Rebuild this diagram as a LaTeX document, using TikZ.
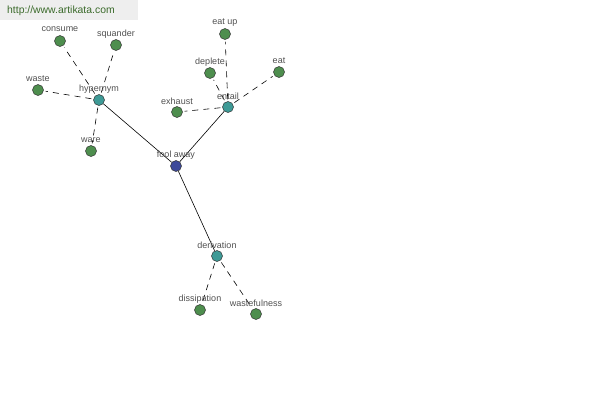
\documentclass[tikz,border=0pt]{standalone}
\usepackage{fontspec}
\setmainfont{Liberation Sans}
\definecolor{leafgreen}{HTML}{4E8E4E}
\definecolor{hubteal}{HTML}{3E9A96}
\definecolor{rootblue}{HTML}{3E4A9A}
\definecolor{labelgray}{HTML}{505050}
\definecolor{bannergray}{HTML}{EEEEEE}
\definecolor{bannertext}{HTML}{3A6A2A}
\tikzset{
  x=1pt, y=-1pt,
  dot/.style={circle, draw=black!80, line width=0.5pt, minimum size=11pt, inner sep=0pt},
  leaf/.style={dot, fill=leafgreen},
  hub/.style={dot, fill=hubteal},
  root/.style={dot, fill=rootblue},
  lbl/.style={font=\fontsize{9}{10}\selectfont, text=labelgray, inner sep=0pt},
  solidedge/.style={draw=black, line width=0.6pt},
  dashedge/.style={draw=black, line width=0.6pt, dash pattern=on 6pt off 5pt, shorten >=2pt, shorten <=2pt},
}
\begin{document}
\begin{tikzpicture}
\useasboundingbox (0,0) rectangle (600,400);
\fill[bannergray] (0,0) rectangle (138,20);
\node[font=\fontsize{10.4}{11}\selectfont, text=bannertext, anchor=west, inner sep=0pt] (banner) at (7,11) {http://www.artikata.com};

\node[root] (fool) at (176,166) {};
\node[hub] (hyp) at (99,100) {};
\node[hub] (ent) at (228,107) {};
\node[hub] (der) at (217,256) {};
\node[leaf] (consume) at (60,41) {};
\node[leaf] (squander) at (116,45) {};
\node[leaf] (waste) at (38,90) {};
\node[leaf] (ware) at (91,151) {};
\node[leaf] (eatup) at (225,34) {};
\node[leaf] (deplete) at (210,73) {};
\node[leaf] (eat) at (279,72) {};
\node[leaf] (exhaust) at (177,112) {};
\node[leaf] (dissip) at (200,310) {};
\node[leaf] (wastef) at (256,314) {};

\draw[solidedge] (fool) -- (hyp);
\draw[solidedge] (fool) -- (ent);
\draw[solidedge] (fool) -- (der);
\draw[dashedge] (hyp) -- (consume);
\draw[dashedge] (hyp) -- (squander);
\draw[dashedge] (hyp) -- (waste);
\draw[dashedge] (hyp) -- (ware);
\draw[dashedge] (ent) -- (eatup);
\draw[dashedge] (ent) -- (deplete);
\draw[dashedge] (ent) -- (eat);
\draw[dashedge] (ent) -- (exhaust);
\draw[dashedge] (der) -- (dissip);
\draw[dashedge] (der) -- (wastef);

\node[lbl] (lfool) at ([yshift=11pt]fool.center) {fool away};
\node[lbl] (lhyp) at ([yshift=11pt]hyp.center) {hypernym};
\node[lbl] (lent) at ([yshift=11pt]ent.center) {entail};
\node[lbl] (lder) at ([yshift=11pt]der.center) {derivation};
\node[lbl] (lconsume) at ([yshift=12pt]consume.center) {consume};
\node[lbl] (lsquander) at ([yshift=11pt]squander.center) {squander};
\node[lbl] (lwaste) at ([yshift=11pt]waste.center) {waste};
\node[lbl] (lware) at ([yshift=11pt]ware.center) {ware};
\node[lbl] (leatup) at ([yshift=11pt]eatup.center) {eat up};
\node[lbl] (ldeplete) at ([yshift=11pt]deplete.center) {deplete};
\node[lbl] (leat) at ([yshift=11pt]eat.center) {eat};
\node[lbl] (lexhaust) at ([yshift=11pt]exhaust.center) {exhaust};
\node[lbl] (ldissip) at ([yshift=11pt]dissip.center) {dissipation};
\node[lbl] (lwastef) at ([yshift=11pt]wastef.center) {wastefulness};
\end{tikzpicture}
\end{document}
